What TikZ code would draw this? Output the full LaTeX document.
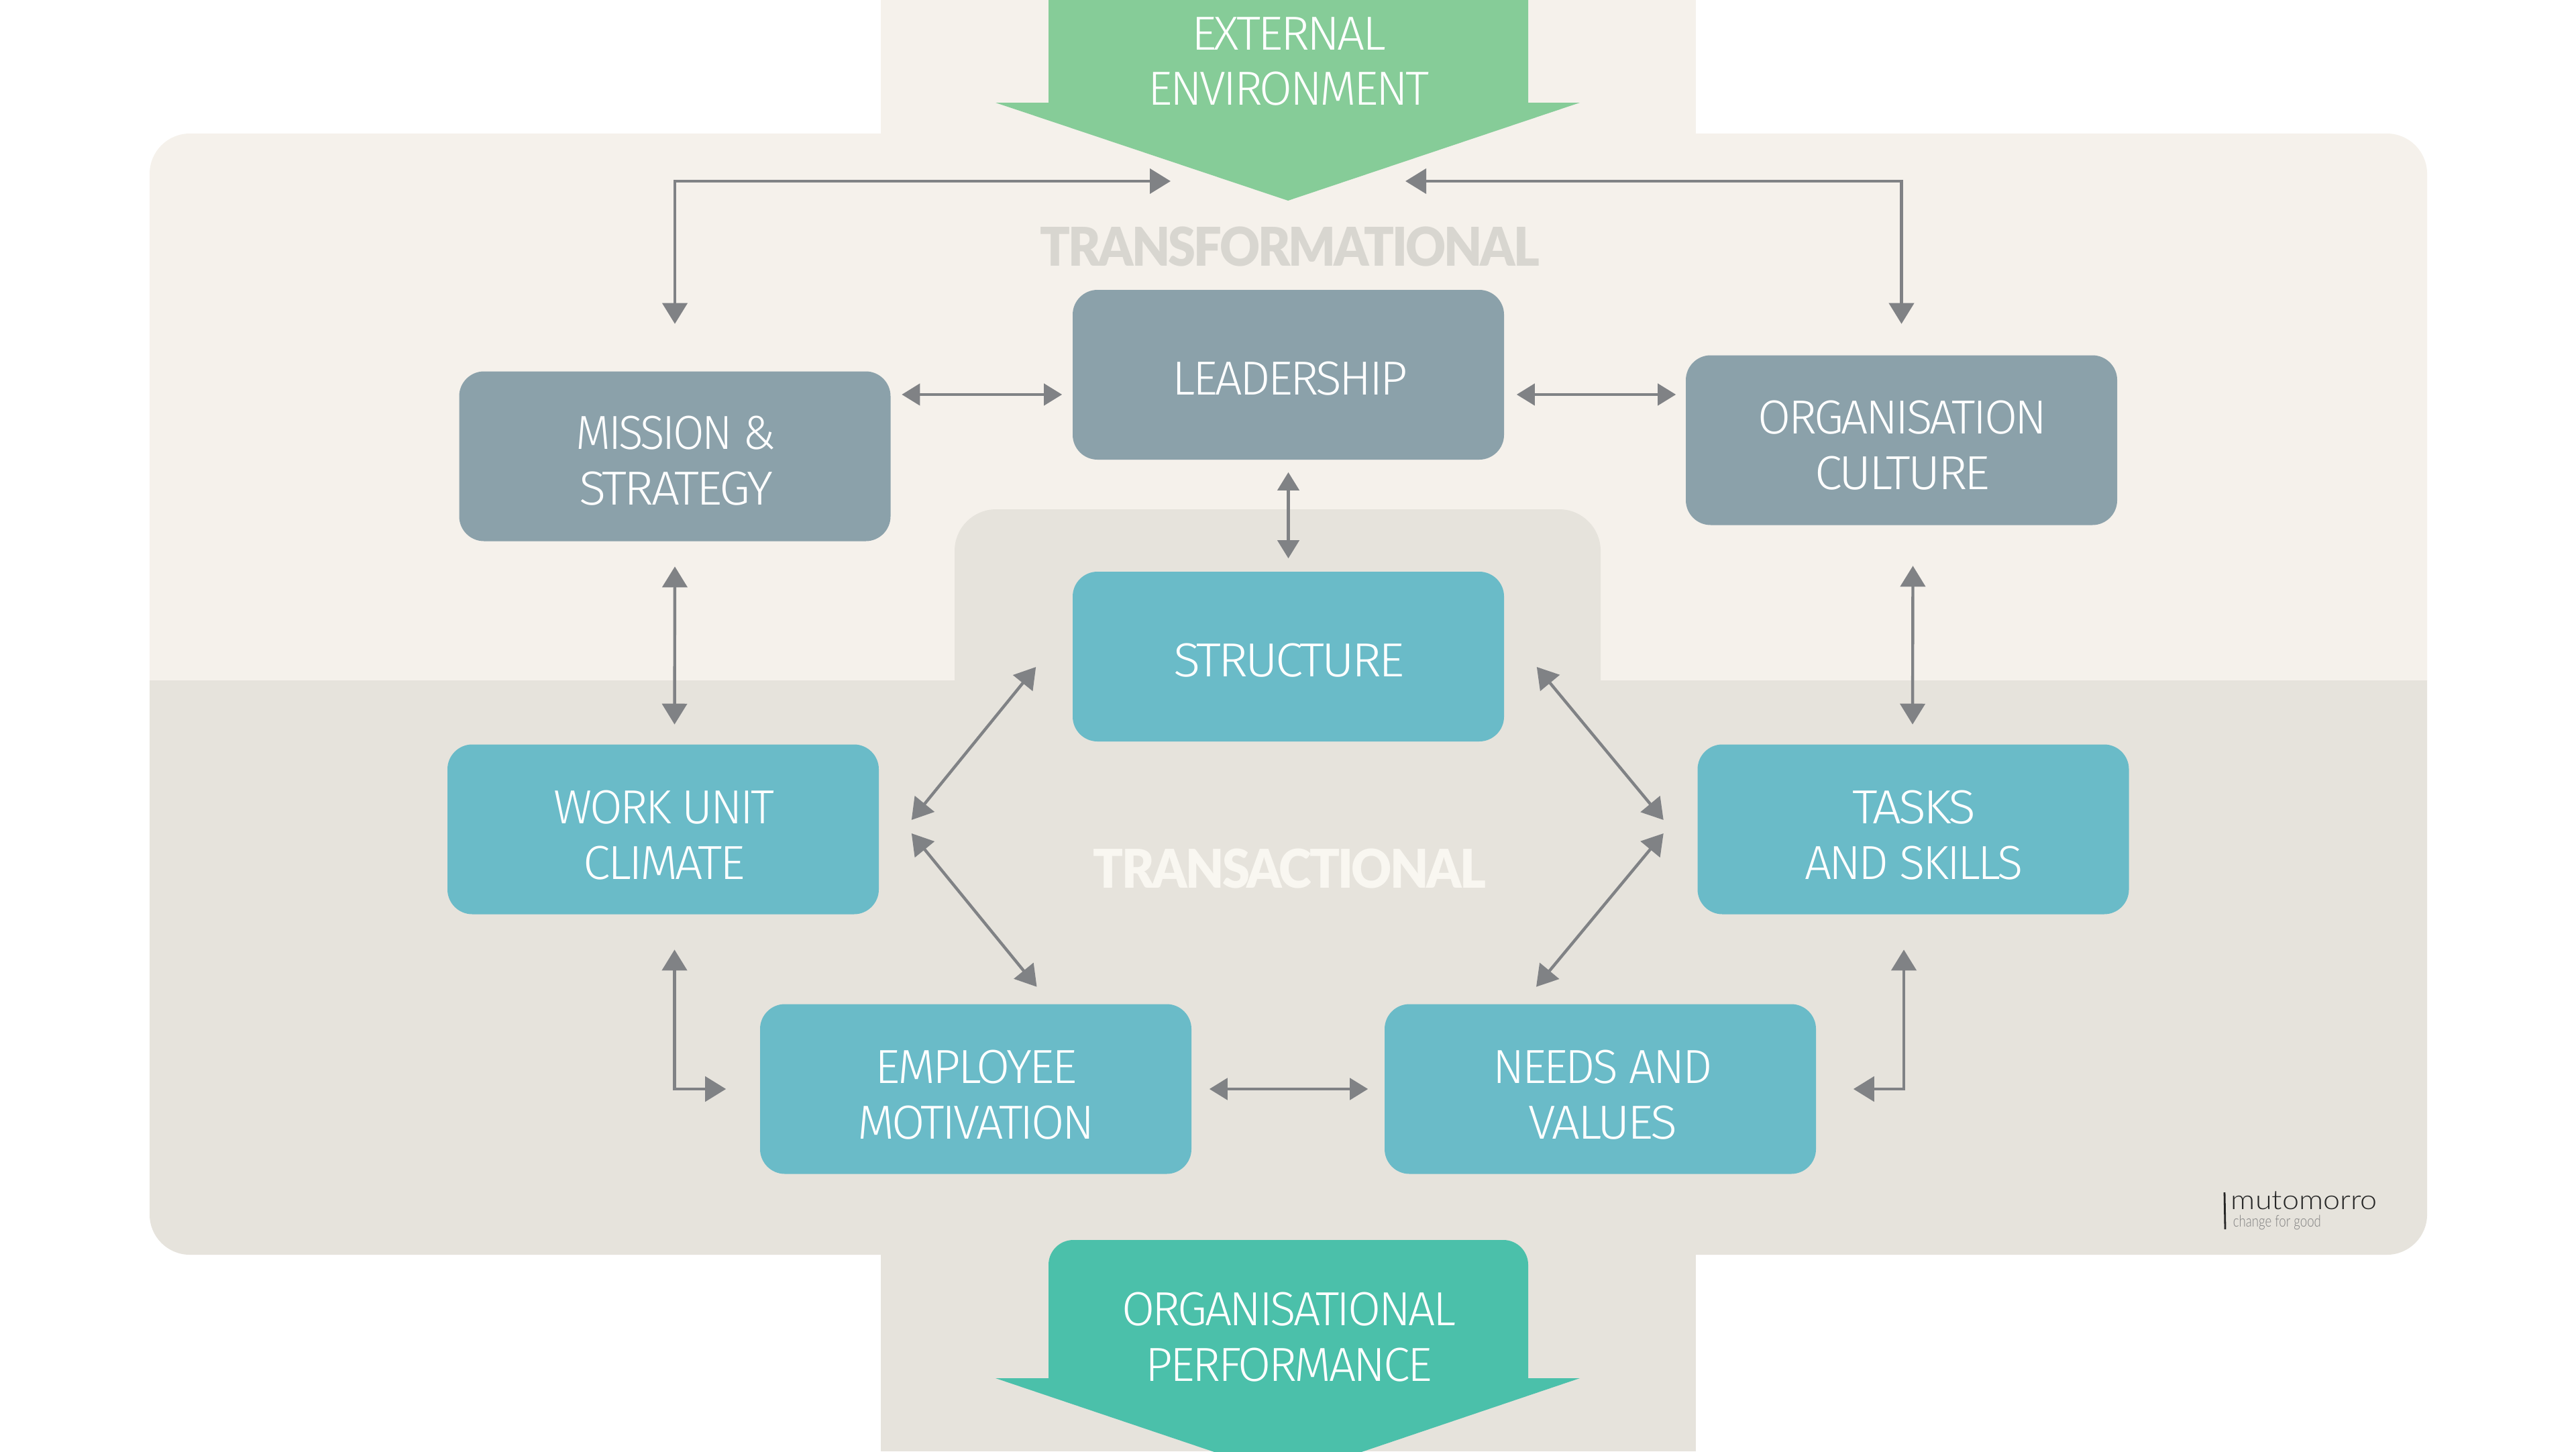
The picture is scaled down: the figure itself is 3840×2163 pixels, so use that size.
\documentclass[tikz,border=0pt]{standalone}
\usepackage{graphicx}
\usepackage{fontspec}
\usetikzlibrary{arrows.meta}
\newfontfamily\lightf[LetterSpace=-5]{Fira Sans Light}
\newfontfamily\heavyf[LetterSpace=-4]{Lato Black}
\newfontfamily\logof{Lato Light}
\definecolor{creambg}{HTML}{F5F1EB}
\definecolor{darkbg}{HTML}{E6E3DC}
\definecolor{slate}{HTML}{8BA1AA}
\definecolor{tealbox}{HTML}{6ABBC8}
\definecolor{greenar}{HTML}{86CC98}
\definecolor{tealar}{HTML}{4BC0AA}
\definecolor{arrowgrey}{HTML}{808285}
\definecolor{headA}{HTML}{D8D6D0}
\definecolor{headB}{HTML}{F9F7F1}
\tikzset{
  x=0.25pt,y=-0.25pt,
  boxbase/.style={rounded corners=9.25pt,minimum width=160.75pt,minimum height=63.25pt,inner sep=0pt,draw=none},
  slatebox/.style={boxbase,fill=slate},
  tealbx/.style={boxbase,fill=tealbox},
  lbl/.style={inner sep=0pt,text=white,align=center,font=\lightf\fontsize{17.8pt}{20.75pt}\selectfont},
  head/.style={inner sep=0pt,font=\heavyf\fontsize{19.9pt}{24pt}\selectfont},
  conn/.style={draw=arrowgrey,line width=1.1pt,{Triangle[length=7.75pt,width=9.25pt]}-{Triangle[length=7.75pt,width=9.25pt]}},
  connS/.style={draw=arrowgrey,line width=1.1pt,{Triangle[length=6.75pt,width=8pt]}-{Triangle[length=6.75pt,width=8pt]}},
}
% width of a line in reference pixels; 1 px = 0.25 pt
\makeatletter
\newcommand{\fitw}[2]{\dimen@=#1pt \advance\dimen@ by 7pt \dimen@=0.25\dimen@ \resizebox{\dimen@}{\height}{#2}}
\newcommand{\fitx}[2]{\dimen@=#1pt \dimen@=0.25\dimen@ \resizebox{\dimen@}{\height}{#2}}
\makeatother
\begin{document}
\begin{tikzpicture}
\useasboundingbox (0,0) rectangle (3840,2163);
\clip (0,0) rectangle (3840,2163);
% backgrounds
\begin{scope}
  \clip (0,0) rectangle (3840,1014);
  \fill[creambg,rounded corners=15pt] (223,199) rectangle (3618,1870);
\end{scope}
\fill[creambg] (1313,0) rectangle (2528,300);
\begin{scope}
  \clip (0,1014) rectangle (3840,2163);
  \fill[darkbg,rounded corners=15pt] (223,199) rectangle (3618,1870);
\end{scope}
\fill[darkbg] (1313,1800) rectangle (2528,2163);
\begin{scope}
  \clip (0,0) rectangle (3840,1015);
  \fill[darkbg,rounded corners=15.5pt] (1423,759) rectangle (2386,1300);
\end{scope}
% banners
\fill[greenar] (1563,0) -- (2278,0) -- (2278,153) -- (2355,153) -- (1920,299) -- (1484,153) -- (1563,153) -- cycle;
\fill[tealar] (1484,2054) -- (1563,2054) -- (1563,1885) arc[start angle=180,end angle=90,radius=9.25pt] -- (2241,1848) arc[start angle=90,end angle=0,radius=9.25pt] -- (2278,2054) -- (2355,2054) -- (1920,2201) -- cycle;
\node[lbl] (ext) at (1921,91.5) {\fitw{283}{EXTERNAL}\\\fitw{412}{ENVIRONMENT}};
\node[lbl] (perf) at (1921,1993) {\fitw{491}{ORGANISATIONAL}\\\fitw{420}{PERFORMANCE}};
\coordinate (extL) at (1745,270);
\coordinate (extR) at (2095,270);
% headings
\node[head,text=headA] (transf) at (1922.5,367.5) {\fitx{745}{TRANSFORMATIONAL}};
\node[head,text=headB] (transa) at (1922.5,1294) {\fitx{585}{TRANSACTIONAL}};
% boxes
\node[slatebox] (lead) at (1920.5,558.5) {};
\node[slatebox] (miss) at (1006,680) {};
\node[slatebox] (cult) at (2834.5,656) {};
\node[tealbx] (stru) at (1920.5,978.5) {};
\node[tealbx] (work) at (988.5,1236) {};
\node[tealbx] (task) at (2852,1236) {};
\node[tealbx] (empl) at (1454.5,1623) {};
\node[tealbx] (need) at (2385.5,1623) {};
% box labels
\node[lbl] (leadT) at (1923,564) {\fitw{344}{LEADERSHIP}};
\node[lbl] (missT) at (1007.5,687) {\fitw{291}{MISSION \&}\\\fitw{282}{STRATEGY}};
\node[lbl] (cultT) at (2836,664) {\fitw{424}{ORGANISATION}\\\fitw{254}{CULTURE}};
\node[lbl] (struT) at (1921.5,984) {\fitw{338}{STRUCTURE}};
\node[lbl] (workT) at (990,1244.5) {\fitw{322}{WORK UNIT}\\\fitw{234}{CLIMATE}};
\node[lbl] (taskT) at (2853,1244.5) {\fitw{177}{TASKS}\\\fitw{319}{AND SKILLS}};
\node[lbl] (emplT) at (1455,1632) {\fitw{294}{EMPLOYEE}\\\fitw{346}{MOTIVATION}};
\node[lbl] (needT) at (2389,1632) {\fitw{320}{NEEDS AND}\\\fitw{215}{VALUES}};
% connectors
\draw[conn] (extL) -| ([shift={(0,-70)}]miss.north);
\draw[conn] (extR) -| ([shift={(0,-46)}]cult.north);
\draw[connS] ([shift={(16,-92)}]miss.east) -- ([shift={(-15,29.5)}]lead.west);
\draw[connS] ([shift={(18,29.5)}]lead.east) -- ([shift={(-14,-68)}]cult.west);
\draw[connS] ([shift={(0,18)}]lead.south) -- ([shift={(0,-19)}]stru.north);
\draw[conn] ([shift={(0,37)}]miss.south) -- ([shift={(17,-29)}]work.north);
\draw[conn] ([shift={(17,60)}]cult.south) -- ([shift={(-1,-29)}]task.north);
\draw[conn] ([shift={(-54,15.5)}]stru.west) -- ([shift={(48,-14)}]work.east);
\draw[conn] ([shift={(48,15.5)}]stru.east) -- ([shift={(-50,-14)}]task.west);
\draw[conn] ([shift={(48,6)}]work.east) -- ([shift={(91,-25)}]empl.north);
\draw[conn] ([shift={(-50,6)}]task.west) -- ([shift={(-95.5,-25)}]need.north);
\draw[connS] ([shift={(26,0)}]empl.east) -- ([shift={(-24,0)}]need.west);
\draw[conn] ([shift={(17,52)}]work.south) |- ([shift={(-50,0)}]empl.west);
\draw[conn] ([shift={(-14,52)}]task.south) |- ([shift={(55,0)}]need.east);
% logo
\draw[black!85,line width=0.7pt] (3316,1777) -- (3317,1832);
\node[inner sep=0pt,anchor=base west,text=black!85,font=\logof\fontsize{10pt}{10pt}\selectfont] (logoA) at (3325,1802) {\fitx{218}{mutomorro}};
\node[inner sep=0pt,anchor=base west,text=black!50,font=\logof\fontsize{6pt}{6pt}\selectfont] (logoB) at (3328,1828) {\fitx{131}{change for good}};
\end{tikzpicture}
\end{document}
